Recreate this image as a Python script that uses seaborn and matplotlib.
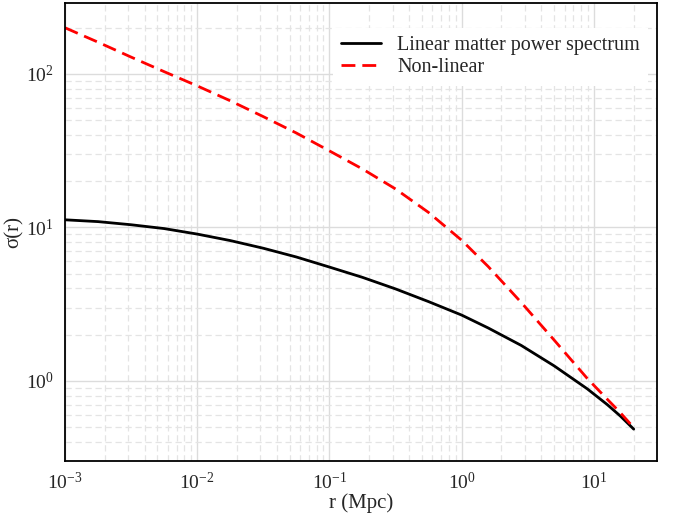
import matplotlib
matplotlib.use("Agg")
import matplotlib.pyplot as plt
import seaborn as sns
import numpy as np
import pandas as pd
from matplotlib.ticker import LogLocator, NullFormatter

# ---- data ----
r_nonlin = [0.001, 0.00178, 0.00316, 0.00562, 0.01, 0.0178, 0.0316, 0.0562,
            0.1, 0.178, 0.316, 0.562, 1.0, 1.585, 2.82, 5.01, 8.91, 12.6,
            15.85, 20.0]
sigma_nonlin = [200, 161, 128.8, 103.5, 83.6, 66.8, 52.7, 41.2,
                31.5, 24.0, 17.8, 12.5, 8.24, 5.56, 3.24, 1.84, 1.035, 0.759,
                0.619, 0.495]

r_lin = [0.001, 0.00178, 0.00316, 0.00562, 0.01, 0.0178, 0.0316, 0.0562,
         0.1, 0.178, 0.316, 0.562, 1.0, 1.585, 2.82, 5.01, 8.91, 12.6,
         15.85, 20.0]
sigma_lin = [11.2, 10.9, 10.4, 9.82, 9.04, 8.2, 7.31, 6.41,
             5.51, 4.72, 3.97, 3.28, 2.68, 2.21, 1.70, 1.25, 0.886, 0.70,
             0.589, 0.484]

label_lin = "Linear matter power spectrum"
label_nonlin = "Non-linear"
x_label = "r (Mpc)"
y_label = "σ(r)"

sns.set_style("white")
plt.rcParams['font.family'] = ['Liberation Serif', 'DejaVu Serif']
plt.rcParams['mathtext.fontset'] = 'stix'
plt.rcParams['axes.unicode_minus'] = False

fig = plt.figure(figsize=(6.76, 5.17), dpi=100)
ax = fig.add_axes([65/676, 1 - 461/517, (657-65)/676, (461-3)/517])

df_lin = pd.DataFrame({"r": r_lin, "sigma": sigma_lin})
df_nl = pd.DataFrame({"r": r_nonlin, "sigma": sigma_nonlin})

sns.lineplot(data=df_lin, x="r", y="sigma", ax=ax, color="black", lw=2.0,
             label=label_lin, sort=True)
sns.lineplot(data=df_nl, x="r", y="sigma", ax=ax, color="#ff0000", lw=2.0,
             label=label_nonlin, sort=True)
ax.lines[1].set_dashes((5, 2.5))

ax.set_xscale("log")
ax.set_yscale("log")
ax.set_xlim(1e-3, 30)
ax.set_ylim(0.3, 290)

ax.xaxis.set_major_locator(LogLocator(base=10, numticks=20))
ax.yaxis.set_major_locator(LogLocator(base=10, numticks=20))
ax.xaxis.set_minor_locator(LogLocator(base=10, subs=np.arange(2, 10), numticks=50))
ax.yaxis.set_minor_locator(LogLocator(base=10, subs=np.arange(2, 10), numticks=50))
ax.xaxis.set_minor_formatter(NullFormatter())
ax.yaxis.set_minor_formatter(NullFormatter())

ax.grid(True, which="major", color="#dcdcdc", linestyle="-", linewidth=1.0)
ax.grid(True, which="minor", color="#e4e4e4", linestyle=(0, (5, 3)), linewidth=0.9)
ax.set_axisbelow(True)

ax.tick_params(axis="both", which="both", length=0, labelsize=14, pad=8)
for s in ax.spines.values():
    s.set_color("black")
    s.set_linewidth(1.3)

ax.set_xlabel(x_label, fontsize=15, labelpad=0)
ax.set_ylabel(y_label, fontsize=15)
ax.yaxis.set_label_coords(-0.069, 0.5)

leg = ax.legend(loc="upper right", bbox_to_anchor=(0.985, 0.945), fontsize=14.5,
                frameon=True, fancybox=False, borderaxespad=0.0,
                handlelength=2.0, labelspacing=0.15)
leg.get_frame().set_edgecolor("none")
leg.get_frame().set_facecolor("white")
leg.get_frame().set_alpha(1.0)

fig.savefig("out.png", dpi=100)
